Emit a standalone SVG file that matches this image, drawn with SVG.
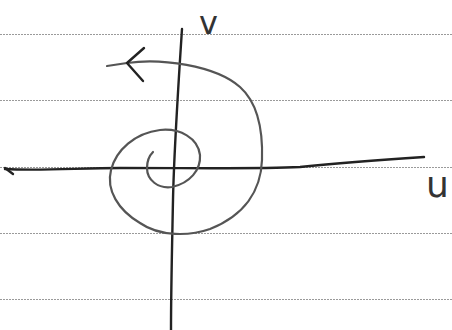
<svg xmlns="http://www.w3.org/2000/svg" width="452" height="330" viewBox="0 0 452 330">
<style>
.rule{stroke:#9a9a9a;stroke-width:1;stroke-dasharray:2 1;fill:none}
.axis{stroke:#222;stroke-width:2.4;fill:none;stroke-linecap:round;stroke-linejoin:round}
.spiral{stroke:#555;stroke-width:2.2;fill:none;stroke-linecap:round;stroke-linejoin:round}
.lbl{font-family:"DejaVu Sans","Liberation Sans",sans-serif;fill:#333}
</style>
<rect width="452" height="330" fill="#fff"/>
<g id="paper-lines">
<line class="rule" x1="0" y1="34.5" x2="452" y2="34.5"/>
<line class="rule" x1="0" y1="100.5" x2="452" y2="100.5"/>
<line class="rule" x1="0" y1="167.5" x2="452" y2="167.5"/>
<line class="rule" x1="0" y1="233.5" x2="452" y2="233.5"/>
<line class="rule" x1="0" y1="299.5" x2="452" y2="299.5"/>
</g>
<g id="axes">
<path id="v-axis" class="axis" d="M182,29 C178,90 174,150 173,200 C172,250 171,290 171,330"/>
<path id="u-axis" class="axis" d="M5,169 C40,171 80,168 120,168 C200,168 260,169 300,167 C340,163 380,160 424,157"/>
<path class="axis" d="M5,168 L13,174" stroke-width="1.6"/>
</g>
<g id="spiral">
<path class="spiral" stroke="#888" d="M107,66 L127,63 C160,58 215,65 240,87 C258,103 263,130 262,160"/>
<path class="spiral" d="M262,160 C261,190 245,215 210,229 C190,236 160,237 140,223 C118,210 106,190 111,170 C116,150 135,133 160,130 C180,128 198,138 200,155 C201,170 190,183 172,187 C158,189 147,180 147,168 C147,160 150,155 153,152"/>
<path class="axis" d="M144,48 L127,63 L143,81"/>
</g>
<g id="labels">
<text class="lbl" x="199" y="34" font-size="32">v</text>
<text class="lbl" x="426" y="197" font-size="36">u</text>
</g>
</svg>
